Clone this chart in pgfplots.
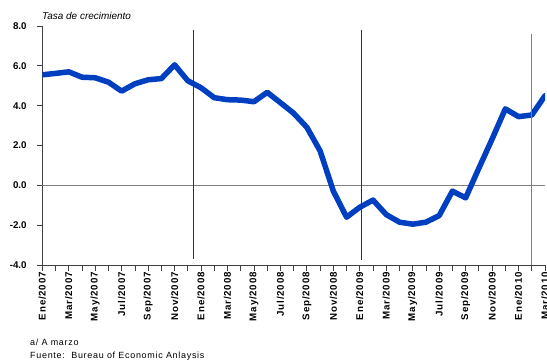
\documentclass[border=0pt]{standalone}
\usepackage{fontspec}
\setmainfont{Liberation Sans}
\newfontfamily\lsfont[LetterSpace=8]{Liberation Sans}
\usepackage{pgfplots}
\pgfplotsset{compat=1.18}
\definecolor{serie}{RGB}{0,64,192}
\begin{document}
\begin{tikzpicture}[x=1bp,y=1bp]
\path[use as bounding box] (0,0) rectangle (547,360);
\begin{axis}[
  at={(42.3bp,95bp)}, anchor=south west,
  scale only axis, width=502.7bp, height=239bp,
  xmin=0, xmax=38, ymin=-4, ymax=8,
  axis x line=bottom, axis y line=left,
  axis line style={-, black!75, line width=0.8bp},
  tick align=outside,
  tick style={black!75, line width=0.8bp},
  major tick length=5.5bp, minor tick length=5.5bp,
  xtick={0,2,...,38},
  minor xtick={1,3,...,37},
  xticklabels={Ene/2007,Mar/2007,May/2007,Jul/2007,Sep/2007,Nov/2007,Ene/2008,Mar/2008,May/2008,Jul/2008,Sep/2008,Nov/2008,Ene/2009,Mar/2009,May/2009,Jul/2009,Sep/2009,Nov/2009,Ene/2010,Mar/2010},
  xticklabel style={rotate=90, anchor=east, inner sep=1.5bp, font=\lsfont\bfseries\fontsize{9.8}{10}\selectfont},
  ytick={-4,-2,...,8},
  yticklabel style={/pgf/number format/.cd, fixed, fixed zerofill, precision=1, assume math mode=true, /tikz/.cd, font=\bfseries\fontsize{9.8}{10}\selectfont, inner sep=1bp, xshift=-9bp},
  clip=true,
]
\draw[black!50, line width=1bp] (axis cs:0,0) -- (axis cs:38,0);
\addplot[serie, line width=5.5bp, line join=round, line cap=round] coordinates {
(0,5.55) (1,5.62) (2,5.70) (3,5.43) (4,5.40) (5,5.18) (6,4.73) (7,5.10) (8,5.30) (9,5.36)
(10,6.05) (11,5.25) (12,4.90) (13,4.40) (14,4.30) (15,4.28) (16,4.20) (17,4.67) (18,4.15) (19,3.62)
(20,2.91) (21,1.73) (22,-0.29) (23,-1.60) (24,-1.10) (25,-0.74) (26,-1.47) (27,-1.85) (28,-1.95) (29,-1.85)
(30,-1.52) (31,-0.29) (32,-0.63) (33,0.86) (34,2.32) (35,3.84) (36,3.45) (37,3.53) (38,4.50)
};
\draw[black!80, line width=0.9bp] (axis cs:11.39,7.79) -- (axis cs:11.39,-3.72);
\draw[black!80, line width=0.9bp] (axis cs:24.16,7.79) -- (axis cs:24.16,-3.75);
\draw[black!50, line width=1bp] (axis cs:37.01,7.59) -- (axis cs:37.01,-4);
\end{axis}
\node[anchor=base west, inner sep=0, font=\itshape\fontsize{10}{12}\selectfont] at (42,341) {Tasa de crecimiento};
\node[anchor=base west, inner sep=0, font=\lsfont\fontsize{9}{10}\selectfont] at (30,15) {a/ A marzo};
\node[anchor=base west, inner sep=0, font=\lsfont\fontsize{9}{10}\selectfont] at (30,2) {Fuente:\ \ Bureau of Economic Anlaysis};
\end{tikzpicture}
\end{document}
